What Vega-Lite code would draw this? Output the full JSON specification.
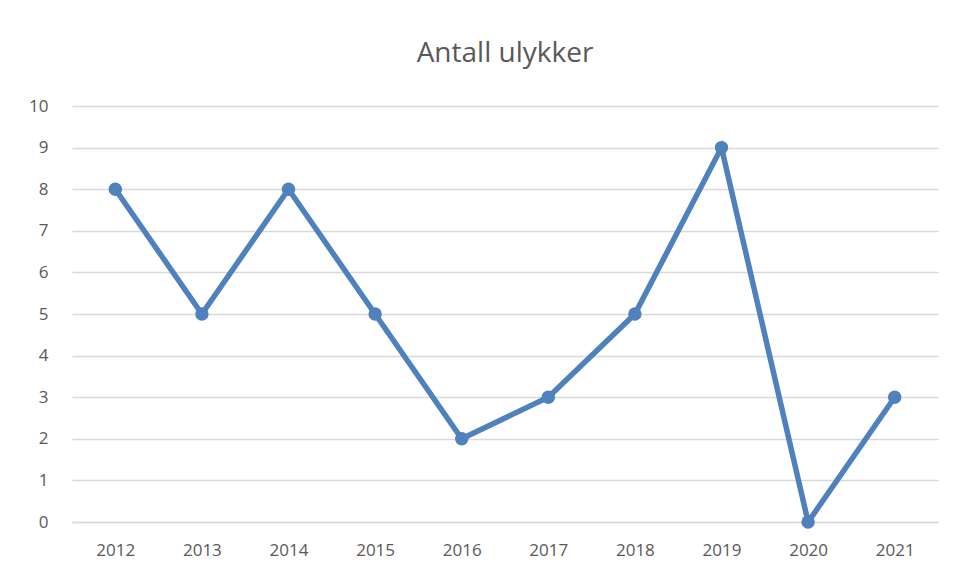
{
  "$schema": "https://vega.github.io/schema/vega-lite/v6.json",
  "width": 866,
  "height": 416,
  "autosize": {"type": "none"},
  "padding": {"left": 72, "top": 106, "right": 19, "bottom": 57},
  "background": "white",
  "config": {
    "view": {"stroke": null},
    "font": "Open Sans",
    "axis": {"labelColor": "#595959", "labelFontSize": 17, "labelFont": "Open Sans", "gridColor": "#d9d9d9", "gridWidth": 1.3, "ticks": false, "title": null, "labelOverlap": false}
  },
  "title": {"text": "Antall ulykker", "fontSize": 28, "font": "Open Sans", "fontWeight": "normal", "color": "#595959", "offset": 29, "anchor": "middle"},
  "data": {"values": [
    {"year": "2012", "value": 8},
    {"year": "2013", "value": 5},
    {"year": "2014", "value": 8},
    {"year": "2015", "value": 5},
    {"year": "2016", "value": 2},
    {"year": "2017", "value": 3},
    {"year": "2018", "value": 5},
    {"year": "2019", "value": 9},
    {"year": "2020", "value": 0},
    {"year": "2021", "value": 3}
  ]},
  "encoding": {
    "x": {"field": "year", "type": "ordinal", "scale": {"type": "point", "padding": 0.5}, "axis": {"labelAngle": 0, "labelPadding": 20, "domainColor": "#d9d9d9", "domainWidth": 1.3, "grid": false}},
    "y": {"field": "value", "type": "quantitative", "scale": {"domain": [0, 10], "nice": false}, "axis": {"values": [0,1,2,3,4,5,6,7,8,9,10], "domain": false, "labelPadding": 24, "grid": true}}
  },
  "layer": [
    {"mark": {"type": "line", "color": "#4f81bd", "strokeWidth": 5.5}},
    {"mark": {"type": "point", "filled": true, "color": "#4f81bd", "opacity": 1, "size": 180}}
  ]
}
